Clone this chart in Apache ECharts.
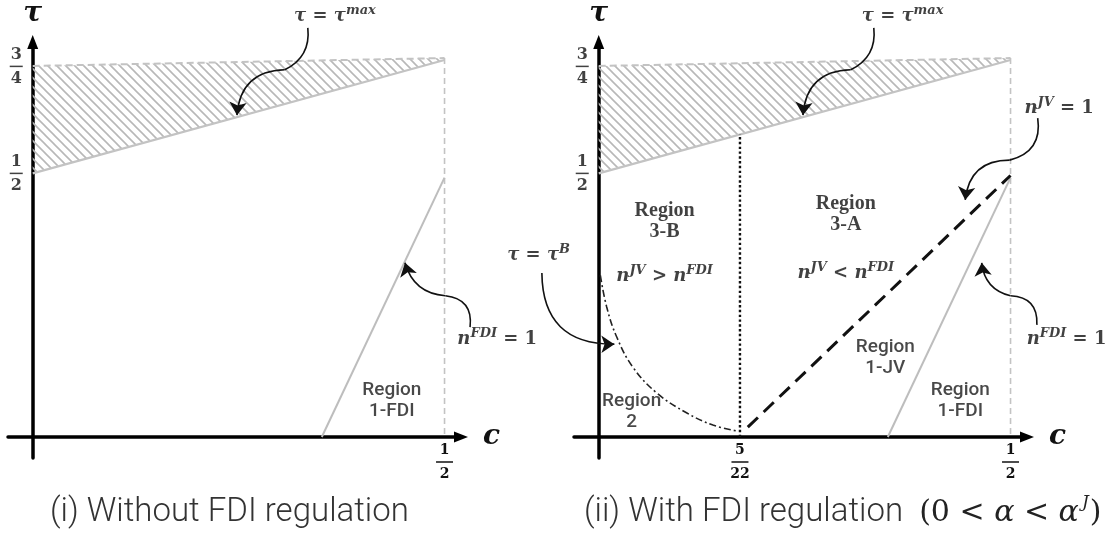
<!DOCTYPE html>
<html><head><meta charset="utf-8">
<script src="https://cdn.jsdelivr.net/npm/echarts@6/dist/echarts.min.js"></script>
<style>html,body{margin:0;padding:0;background:#fff}#c{width:1112px;height:535px}</style>
</head><body><div id="c"></div>
<script>
// ---------------- data (schematic diagram coordinates: x = c, y = tau) ----------------
const cRange = [-0.03, 0.52];
const tauRange = [-0.165, 0.807];
const cAxisTau = -0.116;                       // level at which the c axis is drawn
const tauTickValues = [0.5, 0.75];
const tauTickLabels = [['1', '2'], ['3', '4']];
const tauTickLabelC = -0.02;                   // c position of the tau tick labels (left of the axis)
const cTickValues1 = [0.5];
const cTickLabels1 = [['1', '2']];
const cTickValues2 = [0.1715, 0.5];
const cTickLabels2 = [['5', '22'], ['1', '2']];

const tauMaxRegion = [[0, 0.751], [0.5, 0.7695], [0.5, 0.765], [0, 0.5]];
const tauMaxTop = [[0, 0.751], [0.5, 0.7695]];
const tauMaxBottom = [[0, 0.5], [0.5, 0.765]];
const cHalfGuide = [[0.5, 0.7695], [0.5, -0.116]];
const nFDIBoundary = [[0.351, -0.116], [0.5, 0.49]];
const nJVBoundary = [[0.181, -0.093], [0.5, 0.495]];
const fiveTwentyTwoGuide = [[0.1715, -0.116], [0.1715, 0.591]];
const tauBCurve = [[0.002, 0.262], [0.0097, 0.1877], [0.0219, 0.1176], [0.0414, 0.0475],
                   [0.0706, -0.0133], [0.1071, -0.060], [0.1387, -0.088], [0.1679, -0.102]];

// curved pointer arrows: [from, to, curveness]
const arrowsPlain1 = [[[0.334, 0.840], [0.306, 0.742], 0.35], [[0.531, 0.141], [0.501, 0.214], -0.5]];
const arrowsHead1  = [[[0.306, 0.742], [0.248, 0.636], -0.45], [[0.501, 0.214], [0.452, 0.291], 0.35]];
const arrowsPlain2 = [[[0.334, 0.840], [0.306, 0.742], 0.35], [[0.532, 0.146], [0.500, 0.214], -0.5],
                      [[0.533, 0.629], [0.499, 0.531], 0.45]];
const arrowsHead2  = [[[0.306, 0.742], [0.248, 0.636], -0.45], [[0.500, 0.214], [0.465, 0.291], 0.35],
                      [[0.499, 0.531], [0.445, 0.438], -0.45], [[-0.069, 0.267], [0.019, 0.101], -0.5]];

// text annotations: [c, tau, text, kind]
const texts1 = [
  [0.367, 0.868, '{m|τ}{u| = }{m|τ}{s|max}', 'math'],
  [0.564, 0.113, '{m|n}{s|FDI}{u| = 1}', 'math'],
  [0.436, -0.032, 'Region\n1-FDI', 'sans']
];
const texts2 = [
  [0.369, 0.868, '{m|τ}{u| = }{m|τ}{s|max}', 'math'],
  [0.559, 0.653, '{m|n}{s|JV}{u| = 1}', 'math'],
  [0.080, 0.389, 'Region\n3-B', 'serif'],
  [0.080, 0.260, '{m|n}{s|JV}{u| > }{m|n}{s|FDI}', 'math'],
  [0.300, 0.405, 'Region\n3-A', 'serif'],
  [0.300, 0.267, '{m|n}{s|JV}{u| < }{m|n}{s|FDI}', 'math'],
  [0.348, 0.069, 'Region\n1-JV', 'sans'],
  [0.439, -0.032, 'Region\n1-FDI', 'sans'],
  [0.568, 0.113, '{m|n}{s|FDI}{u| = 1}', 'math'],
  [-0.073, 0.309, '{m|τ}{u| = }{m|τ}{s|B}', 'math'],
  [0.040, -0.058, 'Region\n2', 'sans']
];
const captions = ['(i) Without FDI regulation', '(ii) With FDI regulation'];

// ---------------- styling / helpers ----------------
const MATH = 'DejaVu Serif';
const hatch = (function () {
  const s = 9, cv = document.createElement('canvas');
  cv.width = s; cv.height = s;
  const g = cv.getContext('2d');
  g.strokeStyle = '#b8b8b8'; g.lineWidth = 1.6;
  g.beginPath();
  g.moveTo(-2, -2); g.lineTo(s + 2, s + 2);
  g.moveTo(-2, s - 2); g.lineTo(2, s + 2);
  g.moveTo(s - 2, -2); g.lineTo(s + 2, 2);
  g.stroke();
  return { image: cv, repeat: 'repeat' };
})();

function frac(p) { return '{n|' + p[0] + '}\n{b|\u00a0}\n{n|' + p[1] + '}'; }
function fracRich(size, lh, barW) {
  return {
    n: { fontFamily: MATH, fontWeight: 'bold', fontSize: size, lineHeight: lh, align: 'center', color: '#111' },
    b: { width: barW, fontSize: 2, height: 1.5, lineHeight: 4, backgroundColor: '#111', align: 'center' }
  };
}
const mathRich = {
  m: { fontFamily: MATH, fontStyle: 'italic', fontWeight: 'bold', fontSize: 18, lineHeight: 24, color: '#111' },
  u: { fontFamily: MATH, fontWeight: 'bold', fontSize: 18, lineHeight: 24, color: '#111' },
  s: { fontFamily: MATH, fontStyle: 'italic', fontWeight: 'bold', fontSize: 13, lineHeight: 15, verticalAlign: 'top', color: '#111' }
};
const textKinds = {
  math: { rich: mathRich },
  frac: { rich: fracRich(16, 20, 13) },
  serif: { fontFamily: 'Liberation Serif', fontWeight: 'bold', fontSize: 20, lineHeight: 21, color: '#111', align: 'center' },
  sans: { fontFamily: 'Roboto', fontWeight: 500, fontSize: 19, lineHeight: 21, color: '#1a1a1a', align: 'center' }
};

function makeAxes(g, cTicks, cLabels) {
  const x = {
    gridIndex: g, type: 'value', min: cRange[0], max: cRange[1],
    offset: -21,
    axisLine: { onZero: false, lineStyle: { color: '#000', width: 3.5 }, symbol: ['none', 'triangle'], symbolSize: [11, 14] },
    axisTick: { show: false }, splitLine: { show: false },
    axisLabel: {
      customValues: cTicks, margin: 3,
      formatter: v => frac(cLabels[cTicks.indexOf(v)]),
      rich: fracRich(14, 20, 17)
    },
    name: 'c', nameLocation: 'end', nameGap: 22,
    nameTextStyle: { fontFamily: MATH, fontStyle: 'italic', fontWeight: 'bold', fontSize: 28, color: '#111' }
  };
  const y = {
    gridIndex: g, type: 'value', min: tauRange[0], max: tauRange[1],
    axisLine: { onZero: true, lineStyle: { color: '#000', width: 3.5 }, symbol: ['none', 'triangle'], symbolSize: [11, 14] },
    axisTick: { show: false }, splitLine: { show: false },
    axisLabel: { show: false },
    name: 'τ', nameLocation: 'end', nameGap: 14,
    nameTextStyle: { fontFamily: MATH, fontStyle: 'italic', fontWeight: 'bold', fontSize: 28, color: '#111' }
  };
  return [x, y];
}

function seg(g, pts, color, width, type, z) {
  return { type: 'line', xAxisIndex: g, yAxisIndex: g, data: pts, symbol: 'none', silent: true, clip: false,
           z: z || 2, lineStyle: { color: color, width: width, type: type || 'solid' }, animation: false };
}
function hatchSeries(g) {
  return {
    type: 'custom', xAxisIndex: g, yAxisIndex: g, data: [[0, 0.6]], silent: true, clip: false, z: 1, animation: false,
    renderItem: (p, api) => ({ type: 'polygon', shape: { points: tauMaxRegion.map(pt => api.coord(pt)) },
                               style: { fill: hatch, stroke: null } })
  };
}
function arrowSeries(g, list, head) {
  return {
    type: 'lines', coordinateSystem: 'cartesian2d', xAxisIndex: g, yAxisIndex: g, silent: true, clip: false, z: 5,
    animation: false,
    symbol: head ? ['none', 'arrow'] : 'none', symbolSize: head ? [11, 13] : 0,
    lineStyle: { color: '#111', width: 1.6, opacity: 1 },
    data: list.map(a => ({ coords: [a[0], a[1]], lineStyle: { curveness: a[2] } }))
  };
}
function textSeries(g, list) {
  const all = list.concat(tauTickValues.map((v, i) => [tauTickLabelC, v, frac(tauTickLabels[i]), 'frac']));
  return {
    type: 'scatter', xAxisIndex: g, yAxisIndex: g, silent: true, clip: false, z: 6, animation: false,
    symbolSize: 1, itemStyle: { color: 'rgba(0,0,0,0)' },
    data: all.map(t => ({
      value: [t[0], t[1]],
      label: Object.assign({ show: true, position: 'inside', formatter: t[2] }, textKinds[t[3]])
    }))
  };
}

const axes1 = makeAxes(0, cTickValues1, cTickLabels1);
const axes2 = makeAxes(1, cTickValues2, cTickLabels2);

const CAP = { fontFamily: 'Roboto', fontWeight: 300, fontSize: 33, color: '#333', lineHeight: 38 };
const option = {
  backgroundColor: '#fff',
  animation: false,
  grid: [
    { left: 8, top: 42, width: 453, height: 416, containLabel: false, outerBoundsMode: 'none' },
    { left: 574, top: 42, width: 453, height: 416, containLabel: false, outerBoundsMode: 'none' }
  ],
  xAxis: [axes1[0], axes2[0]],
  yAxis: [axes1[1], axes2[1]],
  title: [
    { text: captions[0], left: 50, top: 494, padding: 0, textStyle: CAP },
    { text: '{t|' + captions[1] + '}{t|  }{p|(0 < }{a|α}{p| < }{a|α}{q|J}{p|)}', left: 584, top: 494, padding: 0,
      textStyle: { fontWeight: 'normal', rich: {
        t: CAP,
        p: { fontFamily: MATH, fontWeight: 'normal', fontSize: 30, color: '#222', lineHeight: 38 },
        a: { fontFamily: MATH, fontWeight: 'normal', fontStyle: 'italic', fontSize: 30, color: '#222', lineHeight: 38 },
        q: { fontFamily: MATH, fontWeight: 'normal', fontStyle: 'italic', fontSize: 17, color: '#222', lineHeight: 22,
             verticalAlign: 'top', padding: [0, 1, 0, 3] }
      } } }
  ],
  series: [
    hatchSeries(0),
    seg(0, tauMaxTop, '#c3c3c3', 2, [7, 4]),
    seg(0, tauMaxBottom, '#c3c3c3', 2.2),
    seg(0, cHalfGuide, '#c3c3c3', 1.6, [6, 4]),
    seg(0, nFDIBoundary, '#bdbdbd', 2),
    arrowSeries(0, arrowsPlain1, false),
    arrowSeries(0, arrowsHead1, true),
    textSeries(0, texts1),

    hatchSeries(1),
    seg(1, tauMaxTop, '#c3c3c3', 2, [7, 4]),
    seg(1, tauMaxBottom, '#c3c3c3', 2.2),
    seg(1, cHalfGuide, '#c3c3c3', 1.6, [6, 4]),
    seg(1, nFDIBoundary, '#bdbdbd', 2),
    seg(1, nJVBoundary, '#111', 3, [14, 8], 3),
    seg(1, fiveTwentyTwoGuide, '#111', 2.4, [2.4, 2.4], 3),
    Object.assign(seg(1, tauBCurve, '#222', 1.6, [7, 3, 2, 3], 3), { smooth: 0.4 }),
    arrowSeries(1, arrowsPlain2, false),
    arrowSeries(1, arrowsHead2, true),
    textSeries(1, texts2)
  ]
};

const chart = echarts.init(document.getElementById('c'), null, { renderer: 'canvas' });
chart.setOption(option);
</script>
</body></html>
